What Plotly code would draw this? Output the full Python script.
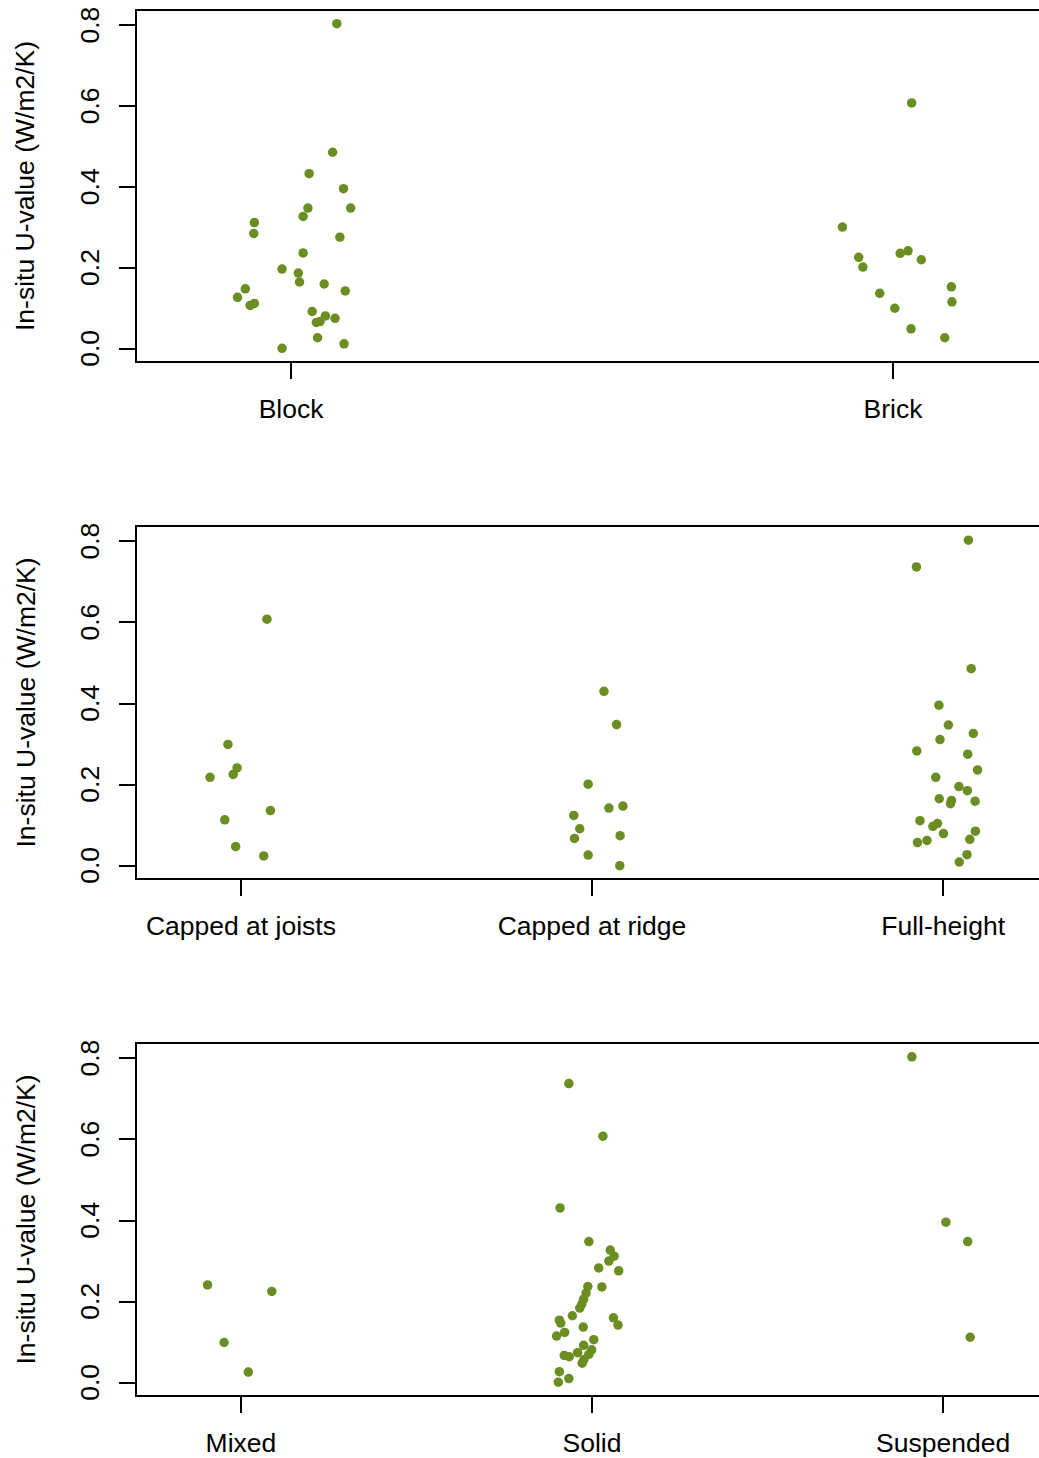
import plotly.graph_objects as go

POINT_COLOR = "#6B8E23"

# ---------------- Panel 1: wall construction ----------------
p1_categories = ["Block", "Brick"]
block_u = [0.804, 0.486, 0.433, 0.396, 0.348, 0.348, 0.327, 0.312, 0.285, 0.276,
           0.237, 0.197, 0.187, 0.165, 0.160, 0.143, 0.148, 0.127, 0.107, 0.112,
           0.092, 0.081, 0.065, 0.067, 0.075, 0.027, 0.012, 0.001]
block_jit = [0.076, 0.069, 0.030, 0.087, 0.028, 0.099, 0.020, -0.061, -0.062, 0.081,
             0.020, -0.015, 0.012, 0.014, 0.055, 0.090, -0.076, -0.089, -0.068, -0.061,
             0.035, 0.057, 0.042, 0.048, 0.073, 0.044, 0.088, -0.015]
brick_u = [0.608, 0.301, 0.226, 0.202, 0.236, 0.242, 0.220, 0.153, 0.116, 0.137,
           0.100, 0.049, 0.027]
brick_jit = [0.031, -0.084, -0.057, -0.050, 0.012, 0.025, 0.047, 0.097, 0.098, -0.022,
             0.003, 0.030, 0.086]

# ---------------- Panel 2: loft / roof insulation ----------------
p2_categories = ["Capped at joists", "Capped at ridge", "Full-height"]
joists_u = [0.608, 0.299, 0.241, 0.225, 0.218, 0.136, 0.113, 0.047, 0.024]
joists_jit = [0.074, -0.037, -0.011, -0.022, -0.088, 0.084, -0.046, -0.015, 0.065]
ridge_u = [0.430, 0.348, 0.201, 0.142, 0.147, 0.124, 0.091, 0.067, 0.074, 0.026, 0.000]
ridge_jit = [0.034, 0.070, -0.011, 0.048, 0.088, -0.052, -0.035, -0.050, 0.080, -0.011, 0.079]
full_u = [0.803, 0.737, 0.486, 0.396, 0.347, 0.326, 0.311, 0.283, 0.275, 0.236,
          0.218, 0.195, 0.185, 0.165, 0.161, 0.153, 0.159, 0.111, 0.104, 0.097,
          0.079, 0.085, 0.065, 0.062, 0.057, 0.027, 0.009]
full_jit = [0.072, -0.076, 0.080, -0.012, 0.015, 0.086, -0.009, -0.075, 0.070, 0.098,
            -0.021, 0.045, 0.069, -0.011, 0.024, 0.021, 0.091, -0.066, -0.016, -0.029,
            0.001, 0.092, 0.076, -0.046, -0.073, 0.068, 0.046]

# ---------------- Panel 3: floor type ----------------
p3_categories = ["Mixed", "Solid", "Suspended"]
mixed_u = [0.241, 0.225, 0.099, 0.026]
mixed_jit = [-0.095, 0.088, -0.048, 0.021]
solid_u = [0.738, 0.608, 0.431, 0.348, 0.327, 0.312, 0.300, 0.283, 0.276, 0.237,
           0.236, 0.221, 0.206, 0.194, 0.184, 0.165, 0.154, 0.147, 0.160, 0.142,
           0.137, 0.124, 0.115, 0.106, 0.092, 0.081, 0.070, 0.074, 0.067, 0.064,
           0.057, 0.048, 0.027, 0.010, 0.001]
solid_jit = [-0.066, 0.031, -0.091, -0.009, 0.052, 0.063, 0.048, 0.019, 0.076, -0.012,
             0.028, -0.017, -0.024, -0.029, -0.035, -0.056, -0.093, -0.089, 0.061, 0.074,
             -0.025, -0.078, -0.101, 0.005, -0.024, -0.001, -0.009, -0.041, -0.079, -0.065,
             -0.023, -0.028, -0.093, -0.066, -0.096]
susp_u = [0.804, 0.396, 0.348, 0.112]
susp_jit = [-0.089, 0.008, 0.070, 0.077]

y_ticks = [0.0, 0.2, 0.4, 0.6, 0.8]
y_tick_text = ["0.0", "0.2", "0.4", "0.6", "0.8"]
y_title = "In-situ U-value (W/m2/K)"

panels = [
    (p1_categories, [(block_u, block_jit), (brick_u, brick_jit)]),
    (p2_categories, [(joists_u, joists_jit), (ridge_u, ridge_jit), (full_u, full_jit)]),
    (p3_categories, [(mixed_u, mixed_jit), (solid_u, solid_jit), (susp_u, susp_jit)]),
]

W, H = 1039, 1458
LEFT = 137
plot_w = W - LEFT
FONT = "Liberation Sans, Arial, Helvetica, sans-serif"
FS = 26.5

# box tops / bottoms in pixels
boxes = [(11, 361), (527, 878), (1044, 1395)]
# R x-limits start (left edge) and pixels per category unit
x_setup = {2: (0.744, 601.9), 3: (0.704, 351.1)}
Y_RANGE = [-0.0305, 0.8355]

fig = go.Figure()
layout = dict(
    width=W, height=H,
    margin=dict(l=LEFT, r=0, t=0, b=0, autoexpand=False),
    paper_bgcolor="white", plot_bgcolor="white",
    showlegend=False,
    font=dict(family=FONT, size=FS, color="black"),
    annotations=[],
)

for i, (cats, groups) in enumerate(panels):
    n = i + 1
    xa = "x" if n == 1 else f"x{n}"
    ya = "y" if n == 1 else f"y{n}"
    for k, (vals, jit) in enumerate(groups):
        fig.add_trace(go.Scatter(
            x=[k + 1 + j for j in jit], y=vals, mode="markers",
            marker=dict(color=POINT_COLOR, size=9.5, line=dict(width=0)),
            xaxis=xa, yaxis=ya, hoverinfo="y",
        ))
    top, bot = boxes[i]
    dom = [1 - bot / H, 1 - top / H]
    x0, unit = x_setup[len(cats)]
    layout["xaxis" if n == 1 else f"xaxis{n}"] = dict(
        domain=[0, 1], anchor=ya,
        range=[x0, x0 + plot_w / unit],
        tickmode="array", tickvals=list(range(1, len(cats) + 1)), ticktext=cats,
        ticks="outside", ticklen=16, tickwidth=1.5, tickcolor="black",
        showline=True, linecolor="black", linewidth=1.5, mirror=True,
        showgrid=False, zeroline=False, automargin=False,
        tickfont=dict(family=FONT, size=FS, color="black"),
        ticklabelstandoff=7, ticklabeloverflow="allow",
    )
    layout["yaxis" if n == 1 else f"yaxis{n}"] = dict(
        domain=dom, anchor=xa,
        range=Y_RANGE,
        tickmode="array", tickvals=y_ticks,
        ticktext=[t + "\u00a0" for t in y_tick_text],
        tickangle=-90,
        ticks="outside", ticklen=16, tickwidth=1.5, tickcolor="black",
        showline=True, linecolor="black", linewidth=1.5, mirror=False,
        showgrid=False, zeroline=False, automargin=False,
        tickfont=dict(family=FONT, size=FS, color="black"),
        ticklabelstandoff=10, ticklabeloverflow="allow",
    )
    layout["annotations"].append(dict(
        text=y_title, xref="paper", yref="paper",
        x=(25 - LEFT) / plot_w, y=(dom[0] + dom[1]) / 2,
        xanchor="center", yanchor="middle", textangle=-90, showarrow=False,
        font=dict(family=FONT, size=FS, color="black"),
    ))

fig.update_layout(**layout)
fig.write_html("out.html")
